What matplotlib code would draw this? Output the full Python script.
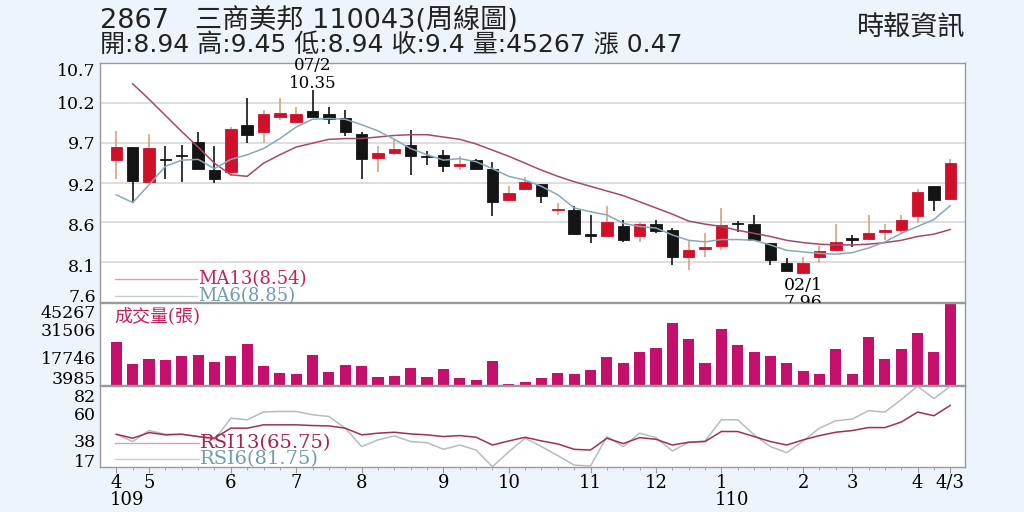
import numpy as np
import matplotlib
matplotlib.use("Agg")
import matplotlib.pyplot as plt

# weekly candles, 109/4 .. 110/4/3
opens = [9.44, 9.61, 9.16, 9.45, 9.50, 9.68, 9.31, 9.28, 9.89, 9.80,
         10.00, 9.94, 10.08, 10.04, 9.99, 9.78, 9.47, 9.53, 9.64, 9.49,
         9.51, 9.36, 9.44, 9.33, 8.92, 9.06, 9.13, 8.79, 8.79, 8.48,
         8.46, 8.58, 8.46, 8.61, 8.53, 8.19, 8.29, 8.33, 8.62, 8.61,
         8.37, 8.10, 7.98, 8.18, 8.28, 8.42, 8.42, 8.51, 8.54, 8.71,
         9.11, 8.94]
highs = [9.82, 9.61, 9.78, 9.62, 9.63, 9.81, 9.62, 9.87, 10.24, 10.09,
         10.24, 10.13, 10.35, 10.13, 10.09, 9.81, 9.62, 9.71, 9.83, 9.56,
         9.57, 9.49, 9.45, 9.41, 9.10, 9.22, 9.13, 8.88, 8.84, 8.73,
         8.85, 8.66, 8.64, 8.67, 8.56, 8.40, 8.49, 8.82, 8.65, 8.73,
         8.37, 8.17, 8.19, 8.33, 8.61, 8.47, 8.73, 8.61, 8.73, 9.07,
         9.11, 9.45]
lows = [9.19, 8.89, 9.15, 9.19, 9.15, 9.32, 9.14, 9.23, 9.66, 9.66,
        9.96, 9.91, 10.00, 9.91, 9.75, 9.19, 9.29, 9.51, 9.25, 9.38,
        9.29, 9.31, 9.32, 8.71, 8.92, 9.05, 8.89, 8.73, 8.47, 8.36,
        8.46, 8.38, 8.38, 8.50, 8.08, 8.01, 8.19, 8.28, 8.51, 8.40,
        8.08, 8.00, 7.96, 8.10, 8.28, 8.31, 8.42, 8.40, 8.49, 8.62,
        8.78, 8.94]
closes = [9.61, 9.17, 9.60, 9.44, 9.49, 9.32, 9.19, 9.84, 9.77, 10.04,
          10.05, 10.04, 10.00, 9.98, 9.80, 9.46, 9.53, 9.58, 9.49, 9.48,
          9.36, 9.39, 9.33, 8.90, 9.02, 9.16, 8.97, 8.80, 8.48, 8.46,
          8.64, 8.41, 8.61, 8.52, 8.19, 8.27, 8.30, 8.60, 8.61, 8.40,
          8.15, 8.00, 8.11, 8.26, 8.38, 8.41, 8.50, 8.52, 8.66, 9.03,
          8.92, 9.40]
ma13 = [np.nan, 10.43, 10.23, 10.02, 9.81, 9.61, 9.40, 9.25, 9.23, 9.40,
        9.51, 9.61, 9.66, 9.71, 9.72, 9.72, 9.74, 9.76, 9.77, 9.77,
        9.74, 9.71, 9.65, 9.57, 9.49, 9.40, 9.31, 9.23, 9.16, 9.10,
        9.04, 8.98, 8.90, 8.82, 8.74, 8.65, 8.61, 8.58, 8.53, 8.49,
        8.45, 8.40, 8.37, 8.35, 8.34, 8.34, 8.35, 8.37, 8.40, 8.45,
        8.48, 8.54]
ma6 = [8.99, 8.89, 9.12, 9.36, 9.44, 9.45, 9.33, 9.45, 9.51, 9.59,
       9.72, 9.87, 9.97, 9.98, 9.97, 9.90, 9.82, 9.71, 9.59, 9.51,
       9.44, 9.46, 9.42, 9.33, 9.23, 9.18, 9.10, 8.99, 8.82, 8.77,
       8.73, 8.62, 8.58, 8.56, 8.47, 8.40, 8.38, 8.41, 8.41, 8.40,
       8.34, 8.27, 8.25, 8.23, 8.22, 8.24, 8.30, 8.38, 8.49, 8.58,
       8.67, 8.85]
volume = [23640, 11570, 14530, 13970, 15820, 16770, 12690, 16040, 22360, 10230,
          6540, 6150, 16600, 7430, 10790, 10230, 4640, 5200, 9330, 4640,
          8770, 3740, 2960, 13020, 400, 1860, 3740, 6540, 6150, 8380,
          15260, 11900, 18050, 20510, 34260, 25540, 11900, 31130, 22190, 18050,
          16210, 11900, 7990, 6320, 19950, 5980, 26440, 14360, 20120, 28670,
          18050, 45267]
rsi13 = [41.6, 38.3, 43.0, 41.1, 41.6, 39.7, 38.3, 46.7, 46.7, 49.5,
         49.5, 49.5, 48.9, 48.6, 46.7, 41.1, 42.5, 43.3, 41.9, 41.1,
         39.7, 40.5, 39.1, 32.6, 36.0, 39.1, 36.0, 33.5, 29.0, 28.4,
         38.3, 33.8, 38.8, 37.4, 32.6, 34.9, 35.5, 43.9, 43.9, 39.7,
         35.5, 32.6, 36.9, 40.5, 43.3, 44.7, 47.2, 47.2, 51.8, 60.2,
         57.1, 65.75]
rsi6 = [41.6, 35.5, 44.7, 41.6, 41.6, 39.7, 36.9, 55.1, 53.7, 60.2,
        60.7, 60.7, 57.9, 56.5, 46.7, 31.3, 36.9, 40.2, 35.5, 34.6,
        29.0, 32.6, 28.4, 14.4, 27.0, 38.3, 31.3, 23.7, 15.8, 15.0,
        39.7, 31.3, 42.5, 38.8, 27.6, 34.9, 36.0, 53.7, 53.7, 41.1,
        31.3, 26.2, 36.0, 46.7, 52.9, 54.3, 61.3, 60.2, 70.6, 81.8,
        71.4, 81.75]

month_idx = [0, 2, 7, 11, 15, 20, 24, 29, 33, 37, 42, 45, 49, 51]
month_labels = ["4", "5", "6", "7", "8", "9", "10", "11", "12", "1", "2", "3", "4", "4/3"]
year_marks = [(0, "109"), (37, "110")]
price_ticks = ["7.6", "8.1", "8.6", "9.2", "9.7", "10.2", "10.7"]
vol_ticks = [3985, 17746, 31506, 45267]
rsi_ticks = [17, 38, 60, 82]

SERIF = "DejaVu Serif"
CJK = ["DejaVu Sans", "Noto Sans CJK TC"]
RED = "#d0102a"
RED_WICK = "#d9a27a"
BLK = "#141414"
MAG = "#c4106c"
MA13_C = "#a84868"
MA6_C = "#86a9b9"
FRAME = "#9a9a9a"

n = len(closes)
x = np.arange(n)
o = np.array(opens); c = np.array(closes)

fig = plt.figure(figsize=(10.24, 5.12), dpi=100, facecolor="#edf4fb")
L, W = 100 / 1024, 865 / 1024
axp = fig.add_axes([L, 1 - 302 / 512, W, 239 / 512])
axv = fig.add_axes([L, 1 - 385 / 512, W, 82 / 512], sharex=axp)
axr = fig.add_axes([L, 1 - 467 / 512, W, 81 / 512], sharex=axp)

for ax in (axp, axv, axr):
    ax.set_facecolor("white")
    for s in ax.spines.values():
        s.set_color(FRAME)
        s.set_linewidth(1)
    ax.tick_params(axis="y", length=0, labelleft=False)


def ylabels(ax, vals, labels, nudge_px):
    # y labels drawn beside the panel; nudges keep them apart like the reference
    ax.set_yticks(vals)
    for v, s, d in zip(vals, labels, nudge_px):
        ax.annotate(s, (0, v), xycoords=("axes fraction", "data"),
                    xytext=(-3, -d * 0.72), textcoords="offset points",
                    ha="right", va="center_baseline", family=SERIF, fontsize=12.5,
                    annotation_clip=False)


# price panel
up = c >= o
body_lo = np.minimum(o, c)
body_h = np.maximum(np.abs(c - o), 0.018)
wick_col = [RED_WICK if u else BLK for u in up]
body_col = [RED if u else BLK for u in up]
axp.vlines(x, lows, highs, colors=wick_col, linewidth=1.2, zorder=2)
axp.bar(x, body_h, bottom=body_lo, width=0.7, color=body_col, edgecolor=body_col,
        linewidth=0.6, zorder=3)
axp.plot(x, ma13, color=MA13_C, lw=1.1, zorder=4)
axp.plot(x, ma6, color=MA6_C, lw=1.1, zorder=4)
axp.set_ylim(7.6, 10.7)
pt = np.linspace(7.6, 10.7, len(price_ticks))
ylabels(axp, pt, price_ticks, [-7, 3, 2.5, 1.5, 0, 0, 7])
for v in pt[1:-1]:
    axp.axhline(v, color="#d8d8d8", lw=1.2, zorder=0)
axp.set_xlim(-1, 51.9)
axp.tick_params(axis="x", bottom=False, labelbottom=False)

axp.plot([0.017, 0.112], [0.096, 0.096], transform=axp.transAxes, color="#d2a4b2", lw=1)
axp.plot([0.017, 0.112], [0.025, 0.025], transform=axp.transAxes, color="#c2ccd2", lw=1)
axp.text(0.113, 0.096, "MA13(8.54)", transform=axp.transAxes, color="#c41e5e",
         family=SERIF, fontsize=13, va="center", ha="left")
axp.text(0.113, 0.025, "MA6(8.85)", transform=axp.transAxes, color="#6d9bb2",
         family=SERIF, fontsize=13, va="center", ha="left")

hi_i = int(np.argmax(highs)); lo_i = int(np.argmin(lows))
axp.annotate(f"{highs[hi_i]:.2f}", (hi_i, highs[hi_i]), xytext=(0, -1.5),
             textcoords="offset points", ha="center", va="bottom",
             family=SERIF, fontsize=12, annotation_clip=False)
axp.annotate("07/2", (hi_i, highs[hi_i]), xytext=(0, 11.5),
             textcoords="offset points", ha="center", va="bottom",
             family=SERIF, fontsize=12, annotation_clip=False)
axp.annotate("02/1", (lo_i, lows[lo_i]), xytext=(0, -2),
             textcoords="offset points", ha="center", va="top",
             family=SERIF, fontsize=12.5, annotation_clip=False, zorder=6)
axp.annotate(f"{lows[lo_i]:.2f}", (lo_i, lows[lo_i]), xytext=(0, -14),
             textcoords="offset points", ha="center", va="top",
             family=SERIF, fontsize=12.5, annotation_clip=False, zorder=6)

# volume panel
axv.bar(x, volume, width=0.68, color=MAG, zorder=2)
axv.set_ylim(0, max(volume))
ylabels(axv, vol_ticks, [str(v) for v in vol_ticks], [0, 5, 1.5, 8])
axv.tick_params(axis="x", bottom=False, labelbottom=False)
axv.text(0.017, 0.84, "成交量(張)", transform=axv.transAxes, color="#c41e5e",
         family=["DejaVu Serif", "Noto Sans CJK TC"], fontsize=13, va="center", ha="left")

# rsi panel
axr.plot(x, rsi6, color="#b4bcc2", lw=1.1, zorder=3)
axr.plot(x, rsi13, color="#a03050", lw=1.1, zorder=4)
axr.set_ylim(14.2, 82.0)
ylabels(axr, rsi_ticks, [str(v) for v in rsi_ticks], [-3, 1.7, 1, 9])
axr.plot([0.017, 0.115], [0.296, 0.296], transform=axr.transAxes, color="#d2a4b2", lw=1)
axr.plot([0.017, 0.115], [0.099, 0.099], transform=axr.transAxes, color="#c8d0d4", lw=1)
axr.text(0.116, 0.296, "RSI13(65.75)", transform=axr.transAxes, color="#a8204e",
         family=SERIF, fontsize=14, va="center", ha="left")
axr.text(0.116, 0.099, "RSI6(81.75)", transform=axr.transAxes, color="#6d9bb2",
         family=SERIF, fontsize=14, va="center", ha="left")
axr.set_xticks(month_idx)
axr.set_xticklabels(month_labels, family=SERIF, fontsize=13)
axr.set_xticks(x, minor=True)
axr.tick_params(axis="x", which="major", length=4, color=FRAME, pad=1)
axr.tick_params(axis="x", which="minor", length=2, color=FRAME)
for i, yr in year_marks:
    axr.annotate(yr, (i, 0), xycoords=("data", "axes fraction"), xytext=(-5, -17),
                 textcoords="offset points", ha="left", va="top",
                 family=SERIF, fontsize=13, annotation_clip=False)

# header
fig.text(100 / 1024, 1 - 21 / 512, "2867   三商美邦 110043(周線圖)", family=CJK,
         fontsize=19.5, va="center", ha="left", color="#222")
fig.text(100 / 1024, 1 - 45 / 512, "開:8.94 高:9.45 低:8.94 收:9.4 量:45267 漲 0.47",
         family=CJK, fontsize=18, va="center", ha="left", color="#222")
fig.text(965 / 1024, 1 - 27 / 512, "時報資訊", family=["Noto Sans CJK TC"],
         fontsize=19.5, va="center", ha="right", color="#222")

fig.savefig("out.png", dpi=100, facecolor=fig.get_facecolor())
